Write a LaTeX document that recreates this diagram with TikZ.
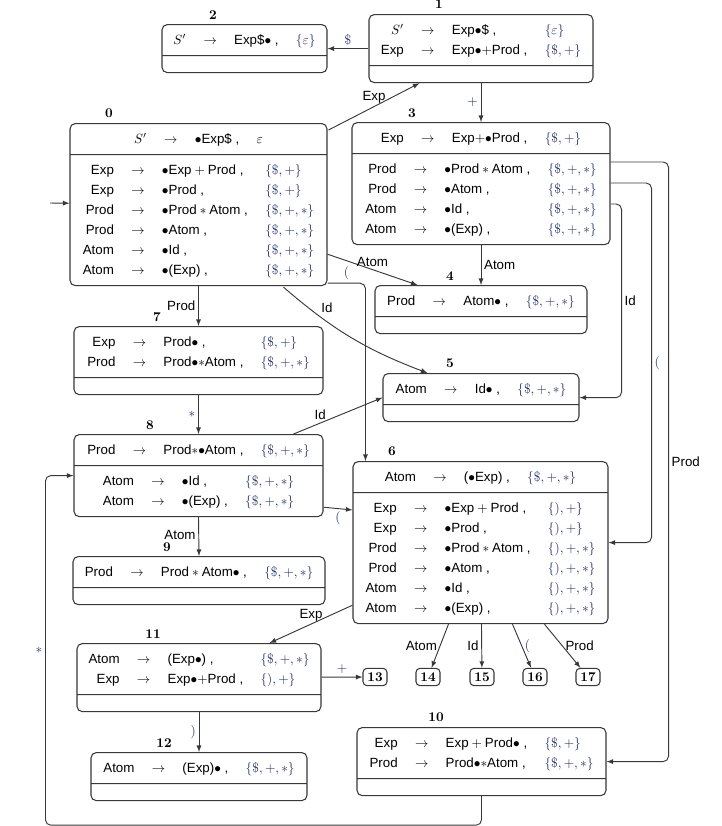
\documentclass[tikz,border=0pt]{standalone}
\usepackage{fontspec}
\setsansfont{Liberation Sans}
\usepackage{tikz}
\tikzset{>=latex}
\usetikzlibrary{calc}
\usetikzlibrary{shapes.multipart}
\definecolor{lookahead}{HTML}{24306E}
\definecolor{wire}{HTML}{383838}
\renewcommand{\arraystretch}{1.25}
\newcommand{\yields}{$\rightarrow$}
\newcommand{\dotmark}{$\bullet$}
\newcommand{\look}[1]{\textcolor{lookahead}{$\{#1\}$}}
\newenvironment{items}{\begin{tabular}{@{}r@{\hspace{13pt}}c@{\hspace{13pt}}l@{\hspace{13pt}}l@{}}}{\end{tabular}}
\tikzset{
  state/.style={rectangle split, rectangle split parts=2, draw=wire, line width=0.8pt,
    rounded corners=4pt, inner xsep=6pt, inner ysep=3.75pt,
    rectangle split empty part height=4.5pt, rectangle split empty part depth=0pt,
    font=\sffamily, anchor=north},
  refbox/.style={draw=wire, line width=0.8pt, rounded corners=3pt, font=\bfseries,
    minimum width=18pt, minimum height=13pt, inner sep=1pt},
  num/.style={font=\bfseries},
  link/.style={->, draw=wire, line width=0.7pt, rounded corners=4pt},
  lbl/.style={font=\sffamily, inner sep=2pt},
  sym/.style={text=lookahead, inner sep=2pt}
}

\begin{document}
\begin{tikzpicture}[x=0.75pt, y=-0.75pt]
    \useasboundingbox (0,0) rectangle (722,826);

    % states
    \node[state, minimum width=192.75pt] (s0) at (198.5,123) {%
        \begin{items}
            $S'$ & \yields & \dotmark Exp\$\ , & $\varepsilon$
        \end{items}
        \nodepart{two}
        \begin{items}
            Exp & \yields & \dotmark Exp${}+{}$Prod\ , & \look{\$,+} \\
            Exp & \yields & \dotmark Prod\ , & \look{\$,+} \\
            Prod & \yields & \dotmark Prod${}*{}$Atom\ , & \look{\$,+,*} \\
            Prod & \yields & \dotmark Atom\ , & \look{\$,+,*} \\
            Atom & \yields & \dotmark Id\ , & \look{\$,+,*} \\
            Atom & \yields & \dotmark(Exp)\ , & \look{\$,+,*}
        \end{items}};
    \node[state, minimum width=168pt] (s1) at (481,14) {%
        \begin{items}
            $S'$ & \yields & Exp\dotmark\$\ , & \look{\varepsilon} \\
            Exp & \yields & Exp$\bullet{+}$Prod\ , & \look{\$,+}
        \end{items}
        \nodepart{two}};
    \node[state, minimum width=123.75pt] (s2) at (244.5,24) {%
        \begin{items}
            $S'$ & \yields & Exp\$\dotmark\ , & \look{\varepsilon}
        \end{items}
        \nodepart{two}};
    \node[state, minimum width=193.5pt] (s3) at (481,122) {%
        \begin{items}
            Exp & \yields & Exp$+\bullet$Prod\ , & \look{\$,+}
        \end{items}
        \nodepart{two}
        \begin{items}
            Prod & \yields & \dotmark Prod${}*{}$Atom\ , & \look{\$,+,*} \\
            Prod & \yields & \dotmark Atom\ , & \look{\$,+,*} \\
            Atom & \yields & \dotmark Id\ , & \look{\$,+,*} \\
            Atom & \yields & \dotmark(Exp)\ , & \look{\$,+,*}
        \end{items}};
    \node[state, minimum width=159pt] (s4) at (481,285) {%
        \begin{items}
            Prod & \yields & Atom\dotmark\ , & \look{\$,+,*}
        \end{items}
        \nodepart{two}};
    \node[state, minimum width=147pt] (s5) at (481,373) {%
        \begin{items}
            Atom & \yields & Id\dotmark\ , & \look{\$,+,*}
        \end{items}
        \nodepart{two}};
    \node[state, minimum width=191.25pt] (s6) at (480.5,461) {%
        \begin{items}
            Atom & \yields & (\dotmark Exp)\ , & \look{\$,+,*}
        \end{items}
        \nodepart{two}
        \begin{items}
            Exp & \yields & \dotmark Exp${}+{}$Prod\ , & \look{),+} \\
            Exp & \yields & \dotmark Prod\ , & \look{),+} \\
            Prod & \yields & \dotmark Prod${}*{}$Atom\ , & \look{),+,*} \\
            Prod & \yields & \dotmark Atom\ , & \look{),+,*} \\
            Atom & \yields & \dotmark Id\ , & \look{),+,*} \\
            Atom & \yields & \dotmark(Exp)\ , & \look{),+,*}
        \end{items}};
    \node[state, minimum width=186.75pt] (s7) at (198.5,326) {%
        \begin{items}
            Exp & \yields & Prod\dotmark\ , & \look{\$,+} \\
            Prod & \yields & Prod$\bullet*$Atom\ , & \look{\$,+,*}
        \end{items}
        \nodepart{two}};
    \node[state, minimum width=186.75pt] (s8) at (198.5,434) {%
        \begin{items}
            Prod & \yields & Prod$*\bullet$Atom\ , & \look{\$,+,*}
        \end{items}
        \nodepart{two}
        \begin{items}
            Atom & \yields & \dotmark Id\ , & \look{\$,+,*} \\
            Atom & \yields & \dotmark(Exp)\ , & \look{\$,+,*}
        \end{items}};
    \node[state, minimum width=189pt] (s9) at (199,556) {%
        \begin{items}
            Prod & \yields & Prod${}*{}$Atom\dotmark\ , & \look{\$,+,*}
        \end{items}
        \nodepart{two}};
    \node[state, minimum width=186.75pt] (s10) at (481.5,727) {%
        \begin{items}
            Exp & \yields & Exp${}+{}$Prod\dotmark\ , & \look{\$,+} \\
            Prod & \yields & Prod$\bullet*$Atom\ , & \look{\$,+,*}
        \end{items}
        \nodepart{two}};
    \node[state, minimum width=183pt] (s11) at (199,643) {%
        \begin{items}
            Atom & \yields & (Exp\dotmark)\ , & \look{\$,+,*} \\
            Exp & \yields & Exp$\bullet{+}$Prod\ , & \look{),+}
        \end{items}
        \nodepart{two}};
    \node[state, minimum width=162pt] (s12) at (199,752) {%
        \begin{items}
            Atom & \yields & (Exp)\dotmark\ , & \look{\$,+,*}
        \end{items}
        \nodepart{two}};
    \node[refbox] (s13) at (375,677) {13};
    \node[refbox] (s14) at (428,677) {14};
    \node[refbox] (s15) at (482,677) {15};
    \node[refbox] (s16) at (535,677) {16};
    \node[refbox] (s17) at (588,677) {17};

    % state numbers
    \node[num] (l0) at (109,113) {0};
    \node[num] (l1) at (439,4) {1};
    \node[num] (l2) at (213,15) {2};
    \node[num] (l3) at (412,113) {3};
    \node[num] (l4) at (450,276) {4};
    \node[num] (l5) at (450,363) {5};
    \node[num] (l6) at (392,451) {6};
    \node[num] (l7) at (157,317) {7};
    \node[num] (l8) at (150,425) {8};
    \node[num] (l9) at (167,547) {9};
    \node[num] (l10) at (436,717) {10};
    \node[num] (l11) at (153,634) {11};
    \node[num] (l12) at (164,743) {12};

    % transitions
    \coordinate (start) at (50,203);
    \draw[link] (start) -- (s0);
    \draw[link] (s1) -- node[sym, above] {$\$$} (s2);
    \draw[link] ($(s0.north east)+(1,7)$) -- node[lbl, above] {Exp} ($(s1.south west)+(51,0)$);
    \draw[link] (s1) -- node[sym, left] {$+$} (s3);
    \draw[link] (s3) -- node[lbl, right] {Atom} (s4);
    \draw[link] ($(s0.south east)+(0,-32)$) -- node[lbl, above] {Atom} ($(s4.north west)+(43,0)$);
    \draw[link] ($(s3.north east)+(0,82)$) -- ++(11,0) |- node[lbl, pos=0.25, right] {Id} (s5.east);
    \draw[link] ($(s3.north east)+(0,61)$) -- ++(41,0) |- node[sym, pos=0.25, right] {$($} (s6.east);
    \draw[link] ($(s3.north east)+(0,40)$) -- ++(58,0) |- node[lbl, pos=0.25, right] {Prod} (s10.east);
    \draw[link] ($(s0.south east)+(-44,1)$) to[bend right=10] node[lbl, pos=0.25, above right] {Id} ($(s5.north west)+(45,0)$);
    \draw[link] ($(s8.north east)+(-30,0)$) -- node[lbl, pos=0.3, above] {Id} (s5.west);
    \draw[link] ($(s0.south east)+(0,-3)$) -| node[sym, pos=0.25, above] {$($} ($(s6.north west)+(13,0)$);
    \draw[link] (s0) -- node[lbl, left] {Prod} (s7);
    \draw[link] (s7) -- node[sym, left] {$*$} (s8);
    \draw[link] (s8.south) -- node[lbl, left, pos=0.45] {Atom} (s9.north);
    \draw[link] ($(s8.south east)+(0,-10)$) -- node[sym, below] {$($} ($(s6.north west)+(0,49)$);
    \draw[link] ($(s6.south west)+(0,-19)$) -- node[lbl, above] {Exp} ($(s11.north east)+(-52,0)$);
    \draw[link] (s11) -- node[sym, left] {$)$} (s12);
    \draw[link] (s11) -- node[sym, above] {$+$} (s13);
    \draw[link] (s10.south) -- ++(0,29) -| node[sym, pos=0.75, left] {$*$} ($(s8.west)+(-28,0)$) -- (s8.west);
    \draw[link] ($(s6.south west)+(96,0)$) -- node[lbl, left] {Atom} (s14);
    \draw[link] ($(s6.south west)+(129,0)$) -- node[lbl, left] {Id} (s15);
    \draw[link] ($(s6.south west)+(160,0)$) -- node[sym, right] {$($} (s16);
    \draw[link] ($(s6.south west)+(192,0)$) -- node[lbl, right] {Prod} (s17);
\end{tikzpicture}
\end{document}
